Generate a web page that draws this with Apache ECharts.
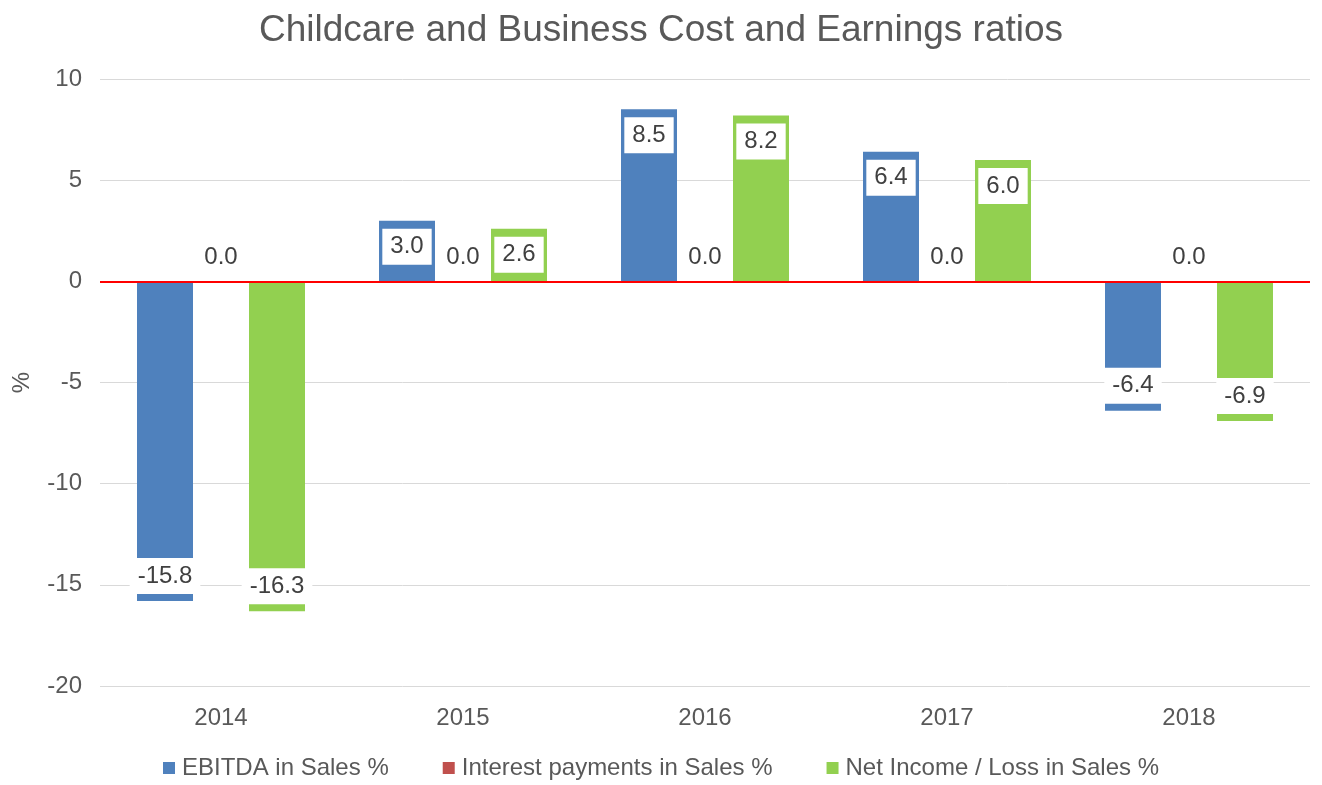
<!DOCTYPE html>
<html>
<head>
<meta charset="utf-8">
<script src="https://cdn.jsdelivr.net/npm/echarts@6/dist/echarts.min.js"></script>
<style>
  html, body { margin: 0; padding: 0; background: #ffffff; }
  #chart { width: 1322px; height: 785px; }
</style>
</head>
<body>
<div id="chart"></div>
<script>
// Ratios by year, in percent of sales
const years = ['2014', '2015', '2016', '2017', '2018'];
const ebitda = [-15.8, 3.0, 8.5, 6.4, -6.4];
const interest = [0.0, 0.0, 0.0, 0.0, 0.0];
const netIncome = [-16.3, 2.6, 8.2, 6.0, -6.9];
const yTicks = { min: -20, max: 10, interval: 5 };

const FONT = '"Liberation Sans", Arial, sans-serif';
const TEXT = '#595959';

// Value labels sit inside the bar end on a white box; zero values float above the axis
function withLabels(values, boxed) {
  return values.map(function (v) {
    let label;
    if (!boxed || v === 0) {
      label = { position: 'top', distance: 6 };
    } else if (v > 0) {
      label = { position: 'insideTop', distance: 8 };
    } else {
      label = { position: 'insideBottom', distance: 7 };
    }
    return { value: v, label: label };
  });
}

function barSeries(name, values, color, boxed) {
  return {
    name: name,
    type: 'bar',
    barWidth: 56,
    barGap: '0%',
    itemStyle: { color: color },
    data: withLabels(values, boxed),
    label: {
      show: true,
      formatter: function (p) { return p.value.toFixed(1); },
      fontFamily: FONT,
      fontSize: 24,
      lineHeight: 24,
      color: '#404040',
      backgroundColor: boxed ? '#ffffff' : 'transparent',
      padding: [6, 8, 6, 8]
    }
  };
}

const chart = echarts.init(document.getElementById('chart'));
chart.setOption({
  backgroundColor: '#ffffff',
  animation: false,
  title: {
    text: 'Childcare and Business Cost and Earnings ratios',
    left: 'center',
    top: 7,
    textStyle: { fontFamily: FONT, fontSize: 37, fontWeight: 'normal', color: TEXT }
  },
  legend: {
    top: 751,
    left: 'center',
    itemWidth: 12,
    itemHeight: 12,
    itemGap: 54,
    icon: 'rect',
    textStyle: { fontFamily: FONT, fontSize: 24, color: TEXT, padding: [0, 0, 0, 2] },
    data: ['EBITDA in Sales %', 'Interest payments in Sales %', 'Net Income / Loss in Sales %']
  },
  grid: { left: 100, right: 12, top: 79, bottom: 99 },
  xAxis: {
    type: 'category',
    data: years,
    axisLine: { show: false },
    axisTick: { show: false },
    axisLabel: { fontFamily: FONT, fontSize: 24, color: TEXT, margin: 20 }
  },
  yAxis: {
    type: 'value',
    min: yTicks.min,
    max: yTicks.max,
    interval: yTicks.interval,
    name: '%',
    nameLocation: 'middle',
    nameGap: 66,
    nameRotate: 90,
    nameTextStyle: { fontFamily: FONT, fontSize: 24, color: TEXT },
    axisLine: { show: false },
    axisTick: { show: false },
    axisLabel: { fontFamily: FONT, fontSize: 24, color: TEXT, margin: 18 },
    splitLine: { lineStyle: { color: '#D9D9D9', width: 1 } }
  },
  series: [
    Object.assign(barSeries('EBITDA in Sales %', ebitda, '#4F81BD', true), {
      markLine: {
        silent: true,
        symbol: 'none',
        label: { show: false },
        lineStyle: { color: '#FF0000', width: 2, type: 'solid' },
        data: [{ yAxis: 0 }]
      }
    }),
    barSeries('Interest payments in Sales %', interest, '#C0504D', false),
    barSeries('Net Income / Loss in Sales %', netIncome, '#92D050', true)
  ]
});
</script>
</body>
</html>
